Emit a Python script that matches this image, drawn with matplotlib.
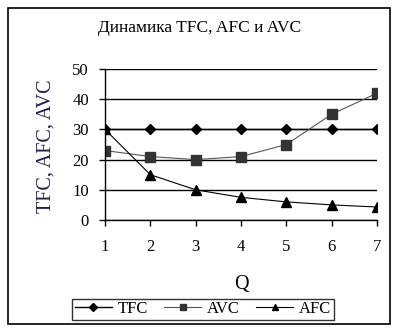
import matplotlib
matplotlib.use("Agg")
import matplotlib.pyplot as plt
from matplotlib.patches import Rectangle

q = [1, 2, 3, 4, 5, 6, 7]
tfc = [30, 30, 30, 30, 30, 30, 30]
avc = [23, 21, 20, 21, 25, 35, 42]
afc = [30, 15, 10, 7.5, 6, 5, 4.3]
yticks = [0, 10, 20, 30, 40, 50]

plt.rcParams['font.family'] = ['Liberation Serif', 'DejaVu Serif']

W, H = 399, 331
fig = plt.figure(figsize=(W / 100, H / 100), dpi=100)

# outer frame
fig.patches.append(Rectangle((8 / W, 1 - 324 / H), (390 - 8) / W, (324 - 8) / H,
                             transform=fig.transFigure, fill=False,
                             edgecolor='black', linewidth=1.2))

L, R, T, B = 105, 377, 69, 220
ax = fig.add_axes([L / W, 1 - B / H, (R - L) / W, (B - T) / H])

ax.plot(q, tfc, color='black', lw=1.0, marker='D', ms=5, label='TFC')
ax.plot(q, avc, color='#555555', lw=0.8, marker='s', ms=6.5,
        markerfacecolor='#333333', markeredgecolor='#333333', label='AVC')
ax.plot(q, afc, color='black', lw=0.8, marker='^', ms=6.5, label='AFC')

ax.set_xlim(1, 7)
ax.set_ylim(0, 50)
ax.set_xticks(q)
ax.set_yticks(yticks)
ax.yaxis.grid(True, color='black', lw=1.0)
ax.set_axisbelow(True)
for s in ['top', 'right']:
    ax.spines[s].set_visible(False)
for s in ['left', 'bottom']:
    ax.spines[s].set_linewidth(1.0)
ax.tick_params(axis='y', length=4.5, width=1, pad=7, labelsize=12)
ax.tick_params(axis='x', length=4.5, width=1, pad=9, labelsize=12, direction='out')
for sp in ax.spines.values():
    sp.set_clip_on(False)

fig.text(200 / W, 1 - 28 / H, 'Динамика TFC, AFC и AVC', ha='center', va='center', fontsize=12.5)
fig.text(46 / W, 1 - 146 / H, 'TFC, AFC, AVC', ha='center', va='center',
         rotation=90, fontsize=14.5, color='#1f1f4f')
fig.text(241 / W, 1 - 284 / H, 'Q', ha='center', va='center', fontsize=14.5)

leg = fig.legend(loc='center', bbox_to_anchor=(203 / W, 1 - 309 / H), ncol=3,
                 fontsize=12, frameon=True, fancybox=False, handlelength=2.2,
                 columnspacing=1.0, handletextpad=0.35, borderpad=0.15,
                 markerscale=0.75, edgecolor='black')
leg.get_frame().set_linewidth(1.0)

fig.savefig('out.png', dpi=100)
